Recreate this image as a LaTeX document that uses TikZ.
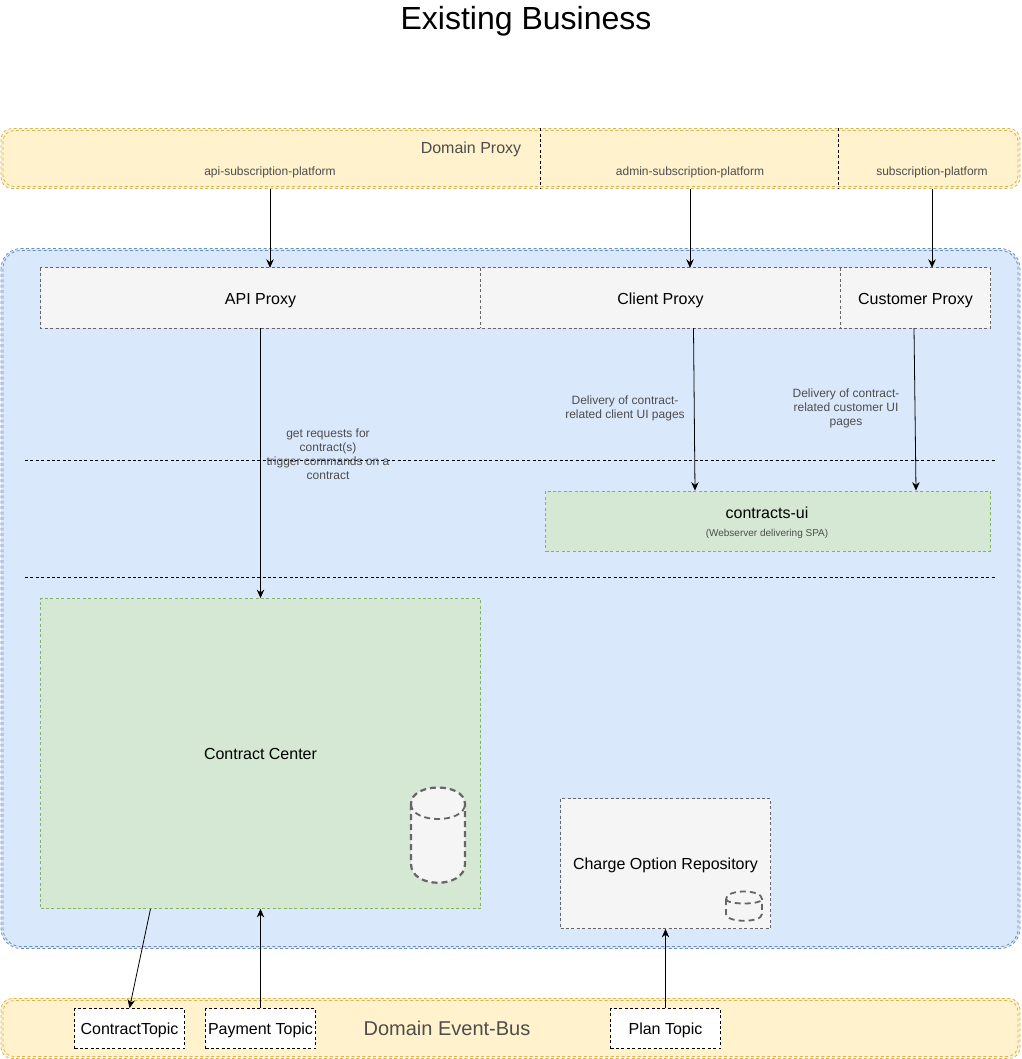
\documentclass[tikz,border=0pt]{standalone}
\usepackage{fontspec}
\setmainfont{Liberation Sans}
\usetikzlibrary{arrows.meta,calc,positioning}
\definecolor{yfill}{HTML}{FFF2CC}
\definecolor{yline}{HTML}{D6B656}
\definecolor{bfill}{HTML}{DAE8FC}
\definecolor{bline}{HTML}{6C8EBF}
\definecolor{gfill}{HTML}{D5E8D4}
\definecolor{gline}{HTML}{82B366}
\definecolor{gybox}{HTML}{F5F5F5}
\definecolor{gyline}{HTML}{666666}
\definecolor{gytext}{HTML}{4D4D4D}
\tikzset{
  dsh/.style={dash pattern=on 3pt off 2.4pt},
  band/.style={draw=#1,dsh,line width=.8pt,rounded corners=11pt},
  cell/.style={draw=none,fill=none,inner sep=0pt},
  boxtext/.style={inner sep=0pt,font=\fontsize{16}{19}\selectfont,text=black,text height=12pt,text depth=0pt},
  graybox/.style={boxtext,draw=gyline,fill=gybox,dsh,line width=.8pt},
  grayface/.style={boxtext,draw=none,fill=gybox},
  grayedge/.style={draw=gyline,dsh,line width=.8pt},
  greenbox/.style={boxtext,draw=gline,fill=gfill,dsh,line width=.8pt},
  topic/.style={boxtext,draw=black,fill=white,dsh,line width=.8pt},
  small/.style={font=\fontsize{12}{14}\selectfont,text=gytext,align=center,inner sep=0pt},
  arr/.style={-{Stealth[length=8.5pt,width=7.5pt]},line width=.8pt,black},
  sepline/.style={draw=black,dsh,line width=.8pt},
  cyl/.style={draw=gyline,fill=gybox,line width=#1,dash pattern=on 6pt off 4pt}
}
\begin{document}
\begin{tikzpicture}[x=1pt,y=-1pt]
\useasboundingbox (0,0) rectangle (1021,1059);
\node[font=\fontsize{32}{38}\selectfont,inner sep=0pt] (title) at (526,21.5) {Existing Business};

% Domain Proxy band
\path[fill=yfill,rounded corners=11pt] (1,129) rectangle (1020,188);
\draw[band=yline] (1,128.5) rectangle (1020,188.5);
\draw[band=yline] (3,130.5) rectangle (1018,186.5);
\node[font=\fontsize{16}{19}\selectfont,text=gytext,inner sep=0pt] (dplabel) at (471,149) {Domain Proxy};
\node[cell,minimum width=540pt,minimum height=60pt] (dpa) at (270,158.5) {};
\node[cell,minimum width=298pt,minimum height=60pt] (dpb) at (689.5,158.5) {};
\node[cell,minimum width=184pt,minimum height=60pt] (dpc) at (930.5,158.5) {};
\draw[sepline] (dpa.north east) -- (dpa.south east);
\draw[sepline] (dpb.north east) -- (dpb.south east);
\node[small] (dpat) at (270,172.5) {api-subscription-platform};
\node[small] (dpbt) at (690,172.5) {admin-subscription-platform};
\node[small] (dpct) at (932,172.5) {subscription-platform};

% Main blue area
\path[fill=bfill,rounded corners=20pt] (1,249) rectangle (1020,948);
\draw[band=bline,rounded corners=20pt] (1,248.5) rectangle (1020,948.5);
\draw[band=bline,rounded corners=18pt] (3,250.5) rectangle (1018,946.5);

% Proxies
\node[grayface,minimum width=440pt,minimum height=60pt] (api) at (260.5,298) {API Proxy};
\node[grayface,minimum width=360pt,minimum height=60pt] (client) at (660.5,298) {Client Proxy};
\node[grayface,minimum width=150pt,minimum height=60pt] (customer) at (915.5,298) {Customer Proxy};
\draw[grayedge] (api.north west) rectangle (customer.south east);
\draw[grayedge] (api.north east) -- (api.south east);
\draw[grayedge] (client.north east) -- (client.south east);

% Separators
\coordinate (s1l) at (25,460.5);
\coordinate (s1r) at (995,460.5);
\coordinate (s2l) at (25,577.5);
\coordinate (s2r) at (995,577.5);
\draw[sepline] (s1l) -- (s1r);
\draw[sepline] (s2l) -- (s2r);

% Services
\node[greenbox,minimum width=445pt,minimum height=60pt] (ui) at (768,521) {};
\node[inner sep=0pt,font=\fontsize{16}{19}\selectfont] (uit) at (767,513) {contracts-ui};
\node[inner sep=0pt,font=\fontsize{10}{12}\selectfont,text=gytext] (uis) at (767,533.5) {(Webserver delivering SPA)};
\node[greenbox,minimum width=440pt,minimum height=310pt] (center) at (260.5,753.5) {Contract Center};
\node[graybox,minimum width=210pt,minimum height=130pt] (repo) at (665.5,863.5) {Charge Option Repository};

% Cylinders
\path[cyl=2.2pt] (411,804) -- (411,864)
  .. controls (411,889) and (465,889) .. (465,864) -- (465,804)
  .. controls (465,782) and (411,782) .. (411,804) -- cycle;
\draw[cyl=1.8pt,fill=none] (411,804) .. controls (411,824) and (465,824) .. (465,804);
\path[cyl=1.8pt] (726,899) -- (726,914)
  .. controls (726,923) and (762,923) .. (762,914) -- (762,899)
  .. controls (762,889) and (726,889) .. (726,899) -- cycle;
\draw[cyl=1.8pt,fill=none] (726,899) .. controls (726,905) and (762,905) .. (762,899);

% Event bus
\path[fill=yfill,rounded corners=11pt] (1,998) rectangle (1020,1058);
\draw[band=yline] (1,998.5) rectangle (1020,1058.5);
\draw[band=yline] (3,1000.5) rectangle (1018,1056.5);
\node[font=\fontsize{20}{23}\selectfont,text=gytext,inner sep=0pt] (bus) at (447,1028.5) {Domain Event-Bus};
\node[topic,minimum width=110pt,minimum height=40pt] (ct) at (129.5,1028.5) {ContractTopic};
\node[topic,minimum width=110pt,minimum height=40pt] (pt) at (260.5,1028.5) {Payment Topic};
\node[topic,minimum width=110pt,minimum height=40pt] (plan) at (665.5,1028.5) {Plan Topic};

% Connector labels
\node[small] (l1) at (328,454.5) {get requests for\\contract(s)\\trigger commands on a\\contract};
\node[small] (l2) at (625,408.5) {Delivery of contract-\\related client UI pages};
\node[small] (l3) at (846,408.5) {Delivery of contract-\\related customer UI\\pages};

% Connectors
\draw[arr] (dpa.south) -- ($(api.north)+(9.5,0)$);
\draw[arr] ($(dpb.south)+(0.5,0)$) -- ($(client.north)+(29.5,0)$);
\draw[arr] ($(dpc.south)+(1.5,0)$) -- ($(customer.north)+(16.5,0)$);
\draw[arr] (api.south) -- (center.north);
\draw[arr] ($(client.south)+(33,0)$) -- ($(ui.north)+(-73,0)$);
\draw[arr] ($(customer.south)+(-1.5,0)$) -- ($(ui.north)+(148,0)$);
\draw[arr] ($(center.south)+(-110,0)$) -- (ct.north);
\draw[arr] (pt.north) -- (center.south);
\draw[arr] (plan.north) -- (repo.south);
\end{tikzpicture}
\end{document}
